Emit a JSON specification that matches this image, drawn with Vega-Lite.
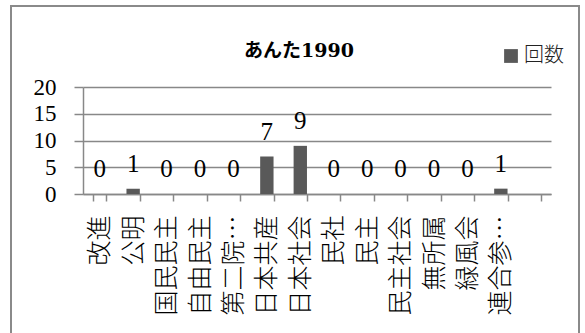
{
  "$schema": "https://vega.github.io/schema/vega-lite/v6.json",
  "width": 568,
  "height": 330,
  "autosize": {"type": "none"},
  "padding": {"left": 11, "top": 6, "right": 6, "bottom": 0},
  "background": "white",
  "config": {"view": {"stroke": "#8a8a8a", "strokeWidth": 2}},
  "title": {
    "text": "あんた1990",
    "font": "DejaVu Serif, Noto Sans CJK JP",
    "fontSize": 19,
    "fontWeight": "bold",
    "color": "black",
    "anchor": "middle",
    "frame": "group",
    "dx": 4,
    "offset": -55
  },
  "data": {
    "values": [
      {"party": "改進", "count": 0},
      {"party": "公明", "count": 1},
      {"party": "国民民主", "count": 0},
      {"party": "自由民主", "count": 0},
      {"party": "第二院…", "count": 0},
      {"party": "日本共産", "count": 7},
      {"party": "日本社会", "count": 9},
      {"party": "民社", "count": 0},
      {"party": "民主", "count": 0},
      {"party": "民主社会", "count": 0},
      {"party": "無所属", "count": 0},
      {"party": "緑風会", "count": 0},
      {"party": "連合参…", "count": 1}
    ]
  },
  "layer": [
    {
      "mark": {"type": "bar"},
      "encoding": {
        "x": {
          "field": "party",
          "type": "nominal",
          "sort": null,
          "scale": {
            "domain": ["改進", "公明", "国民民主", "自由民主", "第二院…", "日本共産", "日本社会", "民社", "民主", "民主社会", "無所属", "緑風会", "連合参…", " "],
            "range": [72, 540],
            "paddingInner": 0.6,
            "paddingOuter": 0.3
          },
          "axis": {
            "title": null,
            "orient": "bottom",
            "offset": -142,
            "labelAngle": -90,
            "labelAlign": "right",
            "labelBaseline": "middle",
            "labelFont": "Noto Sans CJK JP",
            "labelFontSize": 25,
            "labelFontWeight": 300,
            "labelColor": "black",
            "labelPadding": 14,
            "labelOverlap": false,
            "labelLimit": 0,
            "tickBand": "extent",
            "tickSize": 7,
            "tickColor": "#888888",
            "tickWidth": 1.5,
            "domainColor": "#888888",
            "domainWidth": 1.5,
            "grid": false
          }
        },
        "y": {
          "field": "count",
          "type": "quantitative",
          "scale": {"domain": [0, 20], "range": [188, 81]},
          "axis": {
            "title": null,
            "values": [0, 5, 10, 15, 20],
            "offset": -72,
            "grid": true,
            "gridColor": "#888888",
            "gridWidth": 1.5,
            "domainColor": "#888888",
            "domainWidth": 1.5,
            "tickColor": "#888888",
            "tickWidth": 1.5,
            "tickSize": 9,
            "labelFont": "Liberation Serif",
            "labelFontSize": 23,
            "labelColor": "black",
            "labelPadding": 18
          }
        },
        "color": {
          "datum": "回数",
          "scale": {"range": ["#595959"]},
          "legend": {
            "title": null,
            "orient": "none",
            "legendX": 490,
            "legendY": 40,
            "padding": 0,
            "symbolType": "square",
            "symbolSize": 190,
            "symbolStrokeWidth": 0,
            "labelFont": "Noto Sans CJK JP",
            "labelFontSize": 20,
            "labelFontWeight": 300,
            "labelColor": "#222222",
            "labelOffset": 3
          }
        }
      }
    },
    {
      "mark": {
        "type": "text",
        "baseline": "alphabetic",
        "dy": -17,
        "font": "Liberation Serif",
        "fontSize": 25,
        "color": "black"
      },
      "encoding": {
        "x": {"field": "party", "type": "nominal", "sort": null},
        "y": {"field": "count", "type": "quantitative"},
        "text": {"field": "count", "type": "quantitative"}
      }
    }
  ]
}
